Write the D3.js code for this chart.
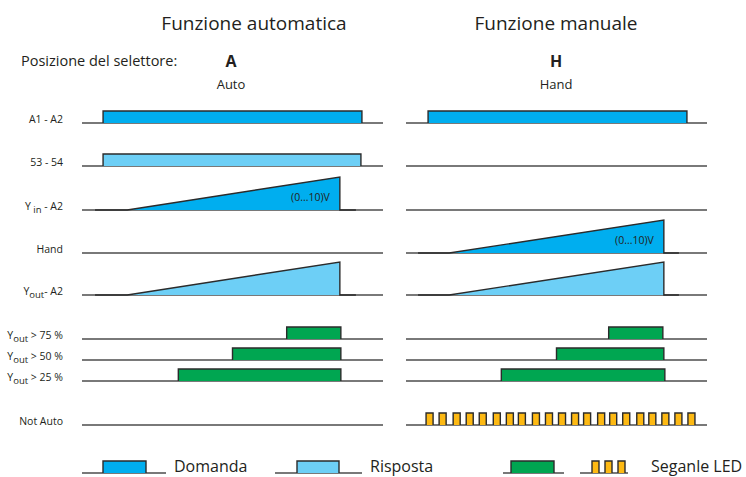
<!DOCTYPE html>
<html>
<head>
<meta charset="utf-8">
<script src="https://cdn.jsdelivr.net/npm/d3@7"></script>
<style>
body { margin: 0; background: #fff; }
text { font-family: "Open Sans", sans-serif; fill: #231f20; }
</style>
</head>
<body>
<script>
// timing diagram: automatic vs manual function

var panelTitles = ["Funzione automatica", "Funzione manuale"];
var selectorKeys = ["A", "H"];
var selectorNames = ["Auto", "Hand"];

// row labels as [main, subscript, rest]
var rowLabels = [
    ["A1 - A2", "", ""],
    ["53 - 54", "", ""],
    ["Y", " in", " - A2"],
    ["Hand", "", ""],
    ["Y", "out", "- A2"],
    ["Y", "out", " > 75 %"],
    ["Y", "out", " > 50 %"],
    ["Y", "out", " > 25 %"],
    ["Not Auto", "", ""]
];

// signals, time in units 0..300 across each panel
var autoSteps = [
    {row: 0, on: 21, off: 279, type: "domanda"},
    {row: 1, on: 21, off: 278, type: "risposta"},
    {row: 5, on: 204, off: 258, type: "led"},
    {row: 6, on: 150, off: 258, type: "led"},
    {row: 7, on: 96, off: 258, type: "led"}
];
var autoRamps = [
    {row: 2, lead: 13, start: 45, peak: 257, end: 273, volts: 10, type: "domanda", note: "(0...10)V"},
    {row: 4, lead: 13, start: 45, peak: 257, end: 273, volts: 10, type: "risposta", note: ""}
];
var manualSteps = [
    {row: 0, on: 22, off: 280, type: "domanda"},
    {row: 5, on: 202, off: 256, type: "led"},
    {row: 6, on: 150, off: 257, type: "led"},
    {row: 7, on: 95, off: 258, type: "led"}
];
var manualRamps = [
    {row: 3, lead: 12, start: 43, peak: 257, end: 272, volts: 10, type: "domanda", note: "(0...10)V"},
    {row: 4, lead: 12, start: 43, peak: 257, end: 272, volts: 10, type: "risposta", note: ""}
];
var manualBlink = [20, 33, 47, 60, 73, 87, 100, 112, 126, 139, 152, 165, 177, 191, 203, 216, 230, 242, 255, 268, 281];
var blinkRow = 8;
var blinkWidth = 7;

var legendItems = [
    {type: "domanda", label: "Domanda"},
    {type: "risposta", label: "Risposta"},
    {type: "led", label: ""},
    {type: "blink", label: "Seganle LED"}
];

var colors = {
    domanda: "#00aeef",
    risposta: "#6dcff6",
    led: "#00a651",
    blink: "#fdb913"
};

var W = 746, H = 477;
var rowBase = [123, 166, 210, 253, 295, 339, 360, 381, 425];
var panelRanges = [[82, 383], [406, 707]];
var stroke = "#2b2b2b";

var svg = d3.select("body").append("svg")
    .attr("width", W)
    .attr("height", H);

var y = d3.scaleOrdinal().domain(d3.range(rowLabels.length)).range(rowBase);
var levelDigital = d3.scaleLinear().domain([0, 1]).range([0, 12]);
var levelAnalog = d3.scaleLinear().domain([0, 10]).range([0, 33]);

// row labels
var labels = svg.selectAll(".rowlabel")
    .data(rowLabels)
    .enter().append("text")
    .attr("class", "rowlabel")
    .attr("x", 63)
    .attr("y", function(d, i) { return y(i); })
    .attr("text-anchor", "end")
    .style("font-size", "10.5px");
labels.append("tspan").text(function(d) { return d[0]; });
labels.filter(function(d) { return d[1]; }).append("tspan")
    .attr("dy", 3).style("font-size", "9.5px")
    .text(function(d) { return d[1]; });
labels.filter(function(d) { return d[1]; }).append("tspan")
    .attr("dy", -3)
    .text(function(d) { return d[2]; });

svg.append("text")
    .attr("x", 21).attr("y", 66)
    .style("font-size", "14.5px")
    .text("Posizione del selettore:");

var titleX = [254, 556], keyX = [231, 556];

function drawPanel(p, steps, ramps, blink) {
    var x = d3.scaleLinear().domain([0, 300]).range(panelRanges[p]);
    var g = svg.append("g");

    g.append("text").attr("x", titleX[p]).attr("y", 30)
        .attr("text-anchor", "middle").style("font-size", "19px")
        .text(panelTitles[p]);
    g.append("text").attr("x", keyX[p]).attr("y", 67)
        .attr("text-anchor", "middle").style("font-size", "16px").style("font-weight", "bold")
        .text(selectorKeys[p]);
    g.append("text").attr("x", keyX[p]).attr("y", 89)
        .attr("text-anchor", "middle").style("font-size", "13px")
        .text(selectorNames[p]);

    // baselines
    g.selectAll(".base")
        .data(rowBase)
        .enter().append("line")
        .attr("x1", x(0)).attr("x2", x(300))
        .attr("y1", function(d) { return d; })
        .attr("y2", function(d) { return d; })
        .attr("stroke", "#4d4d4d")
        .attr("stroke-width", 1.3);

    // step signals
    g.selectAll(".step")
        .data(steps)
        .enter().append("path")
        .attr("d", function(d) {
            var b = y(d.row), t = b - levelDigital(1);
            return "M" + x(d.on) + "," + b + "L" + x(d.on) + "," + t +
                "L" + x(d.off) + "," + t + "L" + x(d.off) + "," + b;
        })
        .attr("fill", function(d) { return colors[d.type]; })
        .attr("stroke", stroke)
        .attr("stroke-width", 1.4);

    // ramps
    g.selectAll(".ramp")
        .data(ramps)
        .enter().append("path")
        .attr("d", function(d) {
            var b = y(d.row), t = b - levelAnalog(d.volts);
            return "M" + x(d.lead) + "," + b + "L" + x(d.start) + "," + b +
                "L" + x(d.peak) + "," + t + "L" + x(d.peak) + "," + b +
                "L" + x(d.end) + "," + b;
        })
        .attr("fill", function(d) { return colors[d.type]; })
        .attr("stroke", stroke)
        .attr("stroke-width", 1.4);

    g.selectAll(".note")
        .data(ramps.filter(function(d) { return d.note; }))
        .enter().append("text")
        .attr("x", function(d) { return x(d.peak) - 10; })
        .attr("y", function(d) { return y(d.row) - 9; })
        .attr("text-anchor", "end")
        .style("font-size", "10.5px")
        .text(function(d) { return d.note; });

    // LED blinking
    g.selectAll(".blink")
        .data(blink)
        .enter().append("path")
        .attr("d", function(d) {
            var b = y(blinkRow), t = b - levelDigital(1);
            return "M" + x(d) + "," + b + "L" + x(d) + "," + t +
                "L" + x(d + blinkWidth) + "," + t + "L" + x(d + blinkWidth) + "," + b;
        })
        .attr("fill", colors.blink)
        .attr("stroke", stroke)
        .attr("stroke-width", 1.4);
}

drawPanel(0, autoSteps, autoRamps, []);
drawPanel(1, manualSteps, manualRamps, manualBlink);

// legend
var legBase = 473, legTop = 461;
var legLayout = [
    {x0: 82, on: 103, off: 146, x1: 166, tx: 174},
    {x0: 275, on: 297, off: 339, x1: 362, tx: 370},
    {x0: 503, on: 511, off: 554, x1: 564, tx: 0},
    {x0: 580, on: 592, off: 0, x1: 628, tx: 651}
];
legendItems.forEach(function(item, i) {
    var L = legLayout[i];
    var g = svg.append("g");
    g.append("line")
        .attr("x1", L.x0).attr("x2", L.x1)
        .attr("y1", legBase).attr("y2", legBase)
        .attr("stroke", "#4d4d4d").attr("stroke-width", 1.3);
    var pulses = item.type === "blink" ? [L.on, L.on + 13, L.on + 26] : [L.on];
    var w = item.type === "blink" ? 7 : L.off - L.on;
    g.selectAll("path")
        .data(pulses)
        .enter().append("path")
        .attr("d", function(d) {
            return "M" + d + "," + legBase + "L" + d + "," + legTop +
                "L" + (d + w) + "," + legTop + "L" + (d + w) + "," + legBase;
        })
        .attr("fill", colors[item.type])
        .attr("stroke", stroke)
        .attr("stroke-width", 1.4);
    if (item.label) {
        g.append("text")
            .attr("x", L.tx).attr("y", 472)
            .style("font-size", "16px")
            .text(item.label);
    }
});
</script>
</body>
</html>
